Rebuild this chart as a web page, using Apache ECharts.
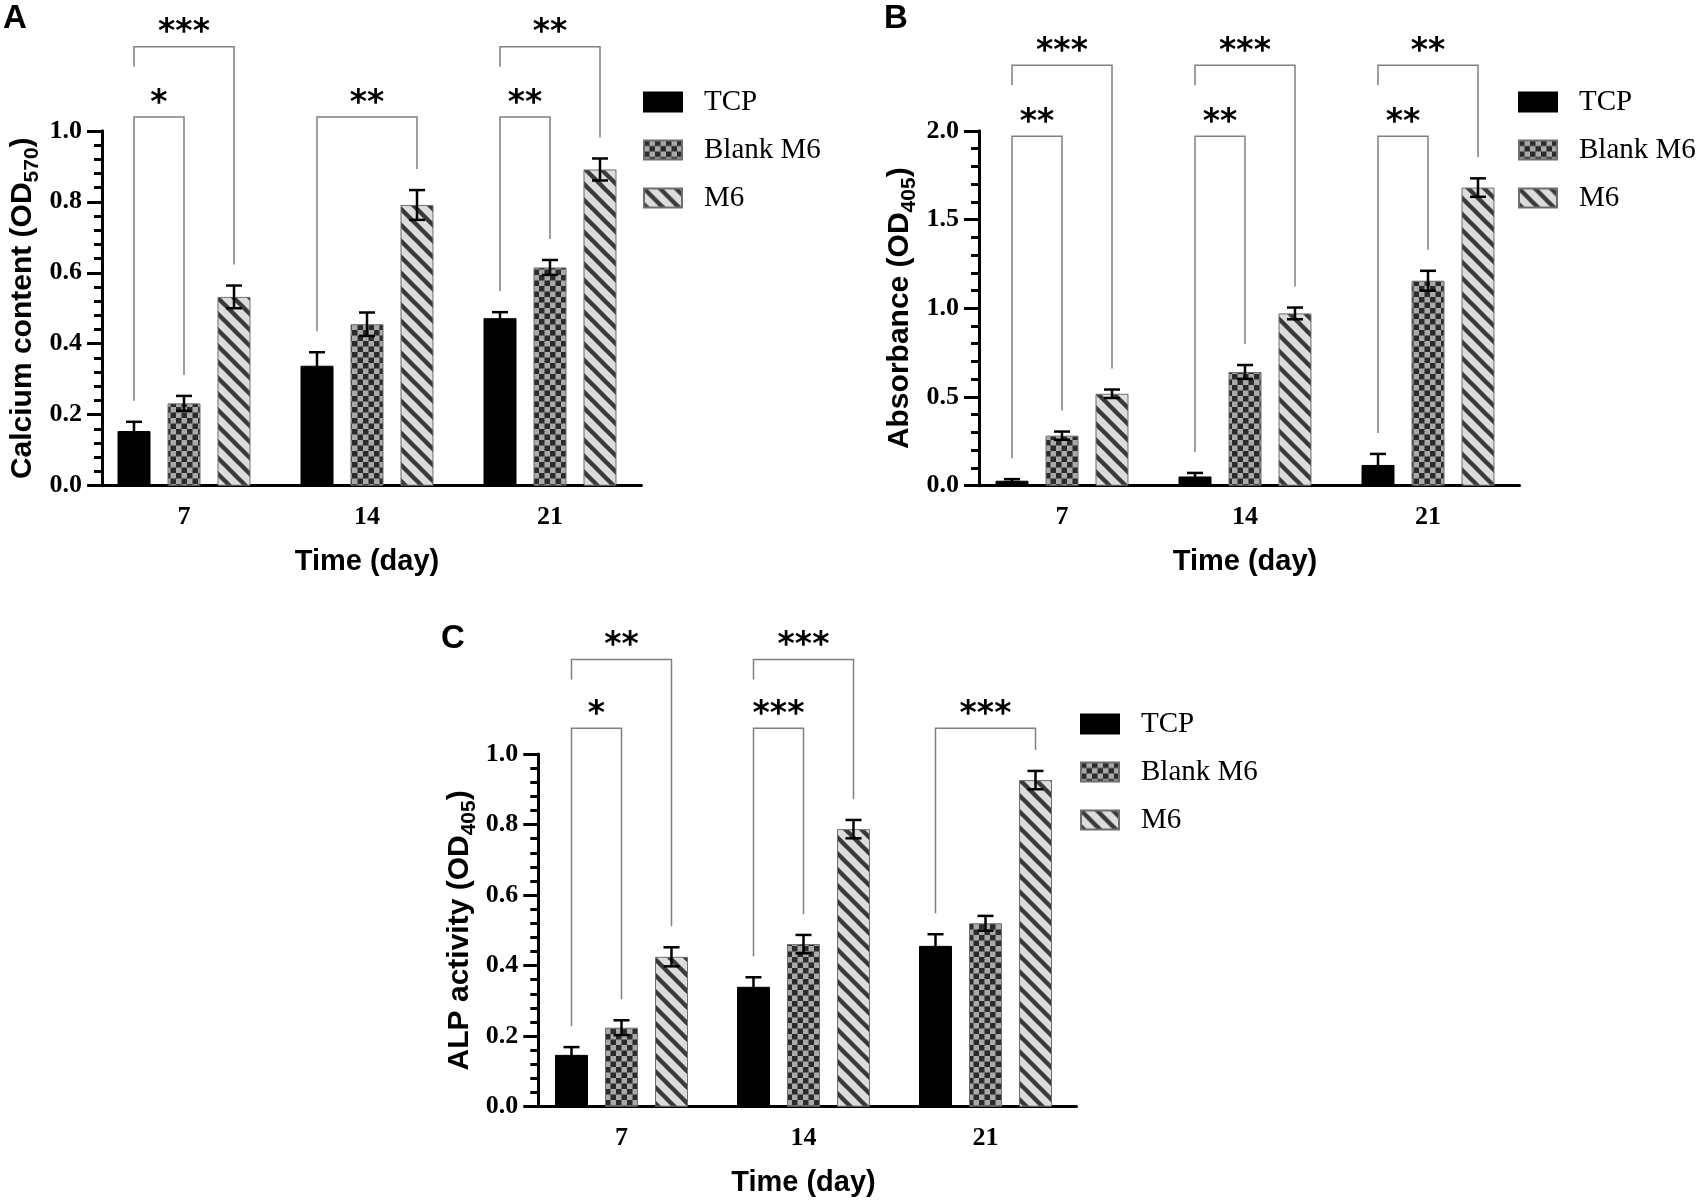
<!DOCTYPE html>
<html><head><meta charset="utf-8">
<script src="https://cdn.jsdelivr.net/npm/echarts@6/dist/echarts.min.js"></script>
<style>html,body{margin:0;padding:0;background:#fff}#c{width:1699px;height:1202px}</style>
</head><body><div id="c"></div>
<script>
// ---------------- DATA ----------------
const categories = ['7', '14', '21'];
const seriesNames = ['TCP', 'Blank M6', 'M6'];

// Panel A: Calcium content (OD570)
const calciumTCP = [0.154, 0.338, 0.472];
const calciumTCPErr = [0.026, 0.038, 0.017];
const calciumBlank = [0.232, 0.455, 0.615];
const calciumBlankErr = [0.021, 0.033, 0.021];
const calciumM6 = [0.532, 0.791, 0.891];
const calciumM6Err = [0.032, 0.042, 0.031];
const calciumAxis = { min: 0, max: 1.0, interval: 0.2 };
// [category index, left group, right group, bracket level, label]
const calciumBrackets = [
  [0, 0, 1, 1.039, '*'], [0, 0, 2, 1.237, '***'],
  [1, 0, 2, 1.039, '**'],
  [2, 0, 1, 1.039, '**'], [2, 0, 2, 1.237, '**']
];

// Panel B: Absorbance (OD405)
const absTCP = [0.028, 0.052, 0.117];
const absTCPErr = [0.009, 0.020, 0.062];
const absBlank = [0.282, 0.641, 1.155];
const absBlankErr = [0.023, 0.039, 0.056];
const absM6 = [0.518, 0.971, 1.680];
const absM6Err = [0.024, 0.033, 0.052];
const absAxis = { min: 0, max: 2.0, interval: 0.5 };
const absBrackets = [
  [0, 0, 1, 1.969, '**'], [0, 0, 2, 2.369, '***'],
  [1, 0, 1, 1.969, '**'], [1, 0, 2, 2.369, '***'],
  [2, 0, 1, 1.969, '**'], [2, 0, 2, 2.369, '**']
];

// Panel C: ALP activity (OD405)
const alpTCP = [0.147, 0.340, 0.456];
const alpTCPErr = [0.022, 0.027, 0.033];
const alpBlank = [0.224, 0.461, 0.520];
const alpBlankErr = [0.021, 0.026, 0.021];
const alpM6 = [0.425, 0.787, 0.926];
const alpM6Err = [0.027, 0.026, 0.026];
const alpAxis = { min: 0, max: 1.0, interval: 0.2 };
const alpBrackets = [
  [0, 0, 1, 1.073, '*'], [0, 0, 2, 1.268, '**'],
  [1, 0, 1, 1.073, '***'], [1, 0, 2, 1.268, '***'],
  [2, 0, 2, 1.073, '***']
];

// ---------------- STYLE / LAYOUT ----------------
const BAR_W = 33, BAR_STEP = 50, CAP_HALF = 8, LEG_GAP = 21, SHORT_LEG = 20, STAR_Y = 13;
const SERIF = 'Liberation Serif', SANS = 'Liberation Sans';

function makeChecker() {
  const c = document.createElement('canvas'); c.width = 11; c.height = 11;
  const g = c.getContext('2d');
  g.fillStyle = '#a9a9a9'; g.fillRect(0, 0, 11, 11);
  g.fillStyle = '#2b2b2b'; g.fillRect(0, 0, 5.5, 5.5); g.fillRect(5.5, 5.5, 5.5, 5.5);
  return c;
}
function makeStripes() {
  const c = document.createElement('canvas'); c.width = 16; c.height = 16;
  const g = c.getContext('2d');
  g.fillStyle = '#dcdcdc'; g.fillRect(0, 0, 16, 16);
  g.strokeStyle = '#3a3a3a'; g.lineWidth = 4.4;
  for (const o of [-16, 0, 16]) { g.beginPath(); g.moveTo(o - 4, -4); g.lineTo(o + 20, 20); g.stroke(); }
  return c;
}
const fills = [
  { color: '#000000', borderColor: '#000000', borderWidth: 1 },
  { color: { image: makeChecker(), repeat: 'repeat' }, borderColor: '#6e6e6e', borderWidth: 1 },
  { color: { image: makeStripes(), repeat: 'repeat' }, borderColor: '#6e6e6e', borderWidth: 1 }
];

const panels = [
  { letter: 'A', letterPos: [3, 2], grid: { left: 92.5, top: 130.8, width: 549, height: 354.9 }, yOffset: -9.5,
    yName: ['Calcium content (OD', '570', ')'], axis: calciumAxis, legendPos: [643, 87],
    means: [calciumTCP, calciumBlank, calciumM6], errs: [calciumTCPErr, calciumBlankErr, calciumM6Err], brackets: calciumBrackets },
  { letter: 'B', letterPos: [884, 2], grid: { left: 970.5, top: 130.8, width: 549, height: 354.9 }, yOffset: -8.5,
    yName: ['Absorbance (OD', '405', ')'], axis: absAxis, legendPos: [1518, 87],
    means: [absTCP, absBlank, absM6], errs: [absTCPErr, absBlankErr, absM6Err], brackets: absBrackets },
  { letter: 'C', letterPos: [441, 622], grid: { left: 530.5, top: 754, width: 546, height: 352.7 }, yOffset: -7.8,
    yName: ['ALP activity (OD', '405', ')'], axis: alpAxis, legendPos: [1080, 709],
    means: [alpTCP, alpBlank, alpM6], errs: [alpTCPErr, alpBlankErr, alpM6Err], brackets: alpBrackets }
];

const option = { animation: false, backgroundColor: '#fff', title: [], grid: [], xAxis: [], yAxis: [], legend: [], series: [] };

panels.forEach((p, pi) => {
  option.title.push({ text: p.letter, left: p.letterPos[0], top: p.letterPos[1], padding: 0,
    textStyle: { fontFamily: SANS, fontWeight: 'bold', fontSize: 33, color: '#000' } });
  option.grid.push(Object.assign({ containLabel: false }, p.grid));
  option.xAxis.push({
    type: 'category', gridIndex: pi, data: categories, boundaryGap: true,
    axisLine: { lineStyle: { color: '#000', width: 3 } },
    axisTick: { alignWithLabel: true, length: 14, lineStyle: { color: '#000', width: 3 } },
    axisLabel: { fontFamily: SERIF, fontWeight: 'bold', fontSize: 26, color: '#000', margin: 19 },
    splitLine: { show: false },
    name: 'Time (day)', nameLocation: 'middle', nameGap: 62,
    nameTextStyle: { fontFamily: SANS, fontWeight: 'bold', fontSize: 29, color: '#000' }
  });
  option.yAxis.push({
    type: 'value', gridIndex: pi, min: p.axis.min, max: p.axis.max, interval: p.axis.interval, offset: p.yOffset,
    axisLine: { show: true, lineStyle: { color: '#000', width: 3 } },
    axisTick: { show: true, length: 15, lineStyle: { color: '#000', width: 3 } },
    minorTick: { show: true, splitNumber: 5, length: 8, lineStyle: { color: '#000', width: 3 } },
    axisLabel: { fontFamily: SERIF, fontWeight: 'bold', fontSize: 26, color: '#000', margin: 20,
      formatter: v => v.toFixed(1) },
    splitLine: { show: false },
    name: '{t|' + p.yName[0] + '}{s|' + p.yName[1] + '}{t|' + p.yName[2] + '}',
    nameLocation: 'middle', nameGap: 64, nameRotate: 90,
    nameTextStyle: { rich: {
      t: { fontFamily: SANS, fontWeight: 'bold', fontSize: 30, lineHeight: 30, color: '#000', verticalAlign: 'top' },
      s: { fontFamily: SANS, fontWeight: 'bold', fontSize: 21, lineHeight: 21, color: '#000', verticalAlign: 'top', padding: [14, 0, 0, 0] }
    } }
  });
  option.legend.push({
    orient: 'vertical', left: p.legendPos[0], top: p.legendPos[1], padding: 0,
    itemWidth: 38, itemHeight: 19, itemGap: 18, icon: 'rect', selectedMode: false,
    data: seriesNames,
    textStyle: { fontFamily: SERIF, fontSize: 29, color: '#000', lineHeight: 30, padding: [0, 0, 0, 17] }
  });
  seriesNames.forEach((nm, k) => {
    option.series.push({
      type: 'bar', name: nm, xAxisIndex: pi, yAxisIndex: pi, data: p.means[k],
      barWidth: BAR_W, barGap: ((BAR_STEP - BAR_W) / BAR_W * 100).toFixed(1) + '%',
      itemStyle: fills[k], emphasis: { disabled: true }, z: 2
    });
  });
  // error bars
  const errData = [];
  p.means.forEach((arr, k) => arr.forEach((m, ci) => errData.push([ci, k, m, p.errs[k][ci]])));
  option.series.push({
    type: 'custom', xAxisIndex: pi, yAxisIndex: pi, data: errData, clip: false, z: 5,
    encode: { x: 0, y: 2 }, silent: true,
    renderItem: (params, api) => {
      const ci = api.value(0), k = api.value(1), m = api.value(2), e = api.value(3);
      const t = api.coord([ci, m + e]), b = api.coord([ci, m - e]);
      const x = t[0] + (k - 1) * BAR_STEP;
      const st = { stroke: '#000', lineWidth: 2.5 };
      return { type: 'group', children: [
        { type: 'line', shape: { x1: x, y1: t[1], x2: x, y2: b[1] }, style: st },
        { type: 'line', shape: { x1: x - CAP_HALF, y1: t[1], x2: x + CAP_HALF, y2: t[1] }, style: st },
        { type: 'line', shape: { x1: x - CAP_HALF, y1: b[1], x2: x + CAP_HALF, y2: b[1] }, style: st }
      ] };
    }
  });
  // significance brackets
  const br = p.brackets;
  option.series.push({
    type: 'custom', xAxisIndex: pi, yAxisIndex: pi, data: br.map(b => [b[0], b[3]]), clip: false, z: 6,
    encode: { x: 0, y: 1 }, silent: true,
    renderItem: (params, api) => {
      const b = br[params.dataIndex];
      const [ci, lk, rk, level, label] = b;
      const c = api.coord([ci, level]);
      const yLine = c[1];
      const xl = c[0] + (lk - 1) * BAR_STEP, xr = c[0] + (rk - 1) * BAR_STEP;
      const shortLeft = br.some(o => o !== b && o[0] === ci && o[1] === lk && o[3] < level);
      const topOf = (k) => api.coord([ci, p.means[k][ci] + p.errs[k][ci]])[1] - LEG_GAP;
      const yl = shortLeft ? yLine + SHORT_LEG : topOf(lk);
      const yr = topOf(rk);
      return { type: 'group', children: [
        { type: 'polyline', shape: { points: [[xl, yl], [xl, yLine], [xr, yLine], [xr, yr]] },
          style: { stroke: '#808080', lineWidth: 1.5, fill: null } },
        { type: 'text', style: { text: label, x: (xl + xr) / 2, y: yLine - STAR_Y, align: 'center', verticalAlign: 'middle',
          fontFamily: 'DejaVu Sans', fontWeight: 'bold', fontSize: 33, fill: '#000' } }
      ] };
    }
  });
});

const chart = echarts.init(document.getElementById('c'), null, { renderer: 'canvas' });
chart.setOption(option);
</script>
</body></html>
